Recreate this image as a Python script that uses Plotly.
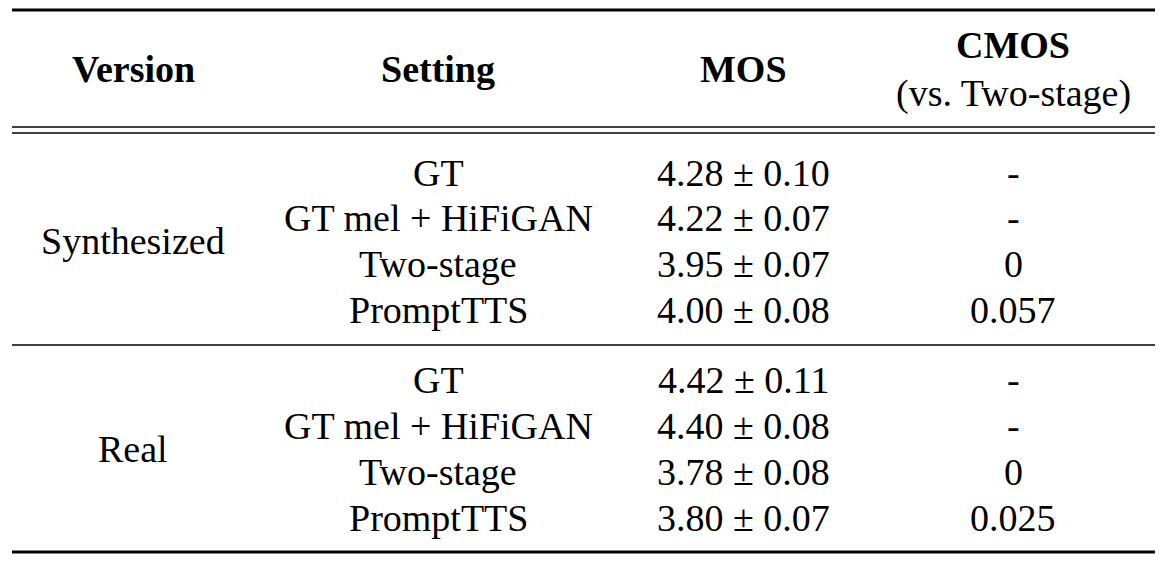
import plotly.graph_objects as go

versions = ["Synthesized", "Real"]
settings = ["GT", "GT mel + HiFiGAN", "Two-stage", "PromptTTS"]
mos = [["4.28 ± 0.10", "4.22 ± 0.07", "3.95 ± 0.07", "4.00 ± 0.08"],
       ["4.42 ± 0.11", "4.40 ± 0.08", "3.78 ± 0.08", "3.80 ± 0.07"]]
cmos = [["-", "-", "0", "0.057"], ["-", "-", "0", "0.025"]]
headers = ["Version", "Setting", "MOS"]

W, H = 1163, 565
dx, dy = -8, -8
colx = [133 + dx, 438 + dx, 743 + dx, 1013 + dx]
font = "Liberation Serif"
fs = 38
ann = []
def t(x, y, s, bold=False, size=fs):
    ann.append(dict(x=x, y=y + dy, xref="x", yref="y", text=f"<b>{s}</b>" if bold else s,
                    showarrow=False, font=dict(family=font, size=size, color="black"),
                    xanchor="center", yanchor="middle"))

for i, h in enumerate(headers):
    t(colx[i], 69, h, bold=True)
t(colx[3], 45, "CMOS", bold=True)
t(colx[3], 93, "(vs. Two-stage)")

row_y = [[173, 218, 264, 310], [380, 426, 472, 518]]
group_y = [241, 449]
for g in range(2):
    t(colx[0], group_y[g], versions[g])
    for r in range(4):
        y = row_y[g][r]
        t(colx[1], y, settings[r])
        t(colx[2], y, mos[g][r])
        t(colx[3], y, cmos[g][r])

shapes = []
def line(y, w):
    shapes.append(dict(type="line", xref="x", yref="y", x0=12 + dx, x1=1160 + dx,
                       y0=y + dy, y1=y + dy, line=dict(color="black", width=w)))
line(10, 3); line(127, 1.3); line(133, 1.3); line(345, 1.3); line(552, 3)

fig = go.Figure()
fig.update_layout(width=W, height=H, margin=dict(l=0, r=0, t=0, b=0),
                  paper_bgcolor="white", plot_bgcolor="white",
                  xaxis=dict(range=[0, W], visible=False, fixedrange=True),
                  yaxis=dict(range=[H, 0], visible=False, fixedrange=True),
                  annotations=ann, shapes=shapes, showlegend=False)
fig.write_html("out.html")
